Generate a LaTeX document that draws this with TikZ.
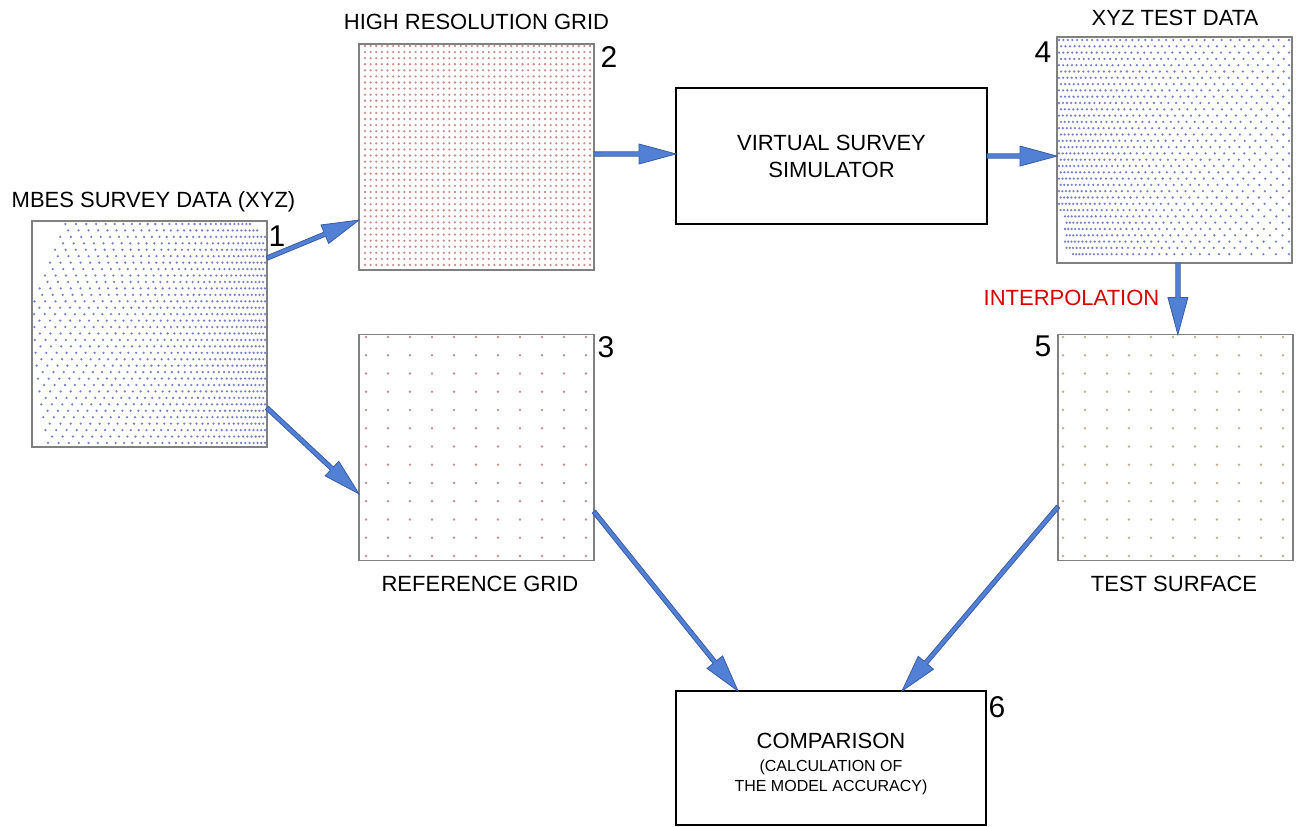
\documentclass[tikz,border=0pt]{standalone}
\usepackage{fontspec}
\setmainfont{Liberation Sans}
\usetikzlibrary{calc}
\definecolor{arrfill}{HTML}{5180D4}
\definecolor{arrdraw}{HTML}{3A5CA6}
\definecolor{bluedot}{HTML}{7880C8}
\definecolor{reddot}{HTML}{C89090}
\definecolor{tandot}{HTML}{C0B08C}
\definecolor{panelline}{HTML}{808080}
\definecolor{interp}{HTML}{D40000}
\newcommand{\aw}{1.65pt}
\newcommand{\aH}{7.5pt}
\newcommand{\ah}{27.75pt}
\tikzset{
  panel/.style={draw=panelline, line width=1.1pt, minimum width=176.25pt, minimum height=169.5pt, inner sep=0pt, outer sep=0pt},
  procbox/.style={draw=black, line width=1.1pt, inner sep=0pt, outer sep=0pt, align=center},
  lbl/.style={font=\fontsize{16.5pt}{20pt}\selectfont, inner sep=0pt, anchor=base},
  num/.style={font=\fontsize{22.5pt}{26pt}\selectfont, inner sep=0pt, anchor=base},
  blockarrow/.style={fill=arrfill, draw=arrdraw, line width=0.6pt, line join=miter,
    to path={let \p1=(\tikztostart), \p2=(\tikztotarget), \n1={atan2(\y2-\y1,\x2-\x1)} in
      ($(\p1)+(\n1+90:\aw)$) -- ($(\p2)+(\n1+180:\ah)+(\n1+90:\aw)$) -- ($(\p2)+(\n1+180:\ah)+(\n1+90:\aH)$)
      -- (\p2) -- ($(\p2)+(\n1+180:\ah)+(\n1-90:\aH)$) -- ($(\p2)+(\n1+180:\ah)+(\n1-90:\aw)$)
      -- ($(\p1)+(\n1-90:\aw)$) -- cycle}}
}
\begin{document}
\begin{tikzpicture}[x=0.75pt, y=-0.75pt]
\useasboundingbox (0,0) rectangle (1297,827);

% panels
\node[panel] (p1) at (149.5,334) {};
\node[panel] (p2) at (476.5,157) {};
\node[panel] (p3) at (476.5,447.5) {};
\node[panel] (p4) at (1174.5,150) {};
\node[panel] (p5) at (1175.5,447.5) {};

% panel 1 dots (MBES survey data)
\foreach \j in {0,...,34}{
  \pgfmathsetmacro\yy{224+\j*6.44}
  \pgfmathsetmacro\xo{\yy<305 ? 33+0.4*(305-\yy) : 34+14*((\yy-305)/138)^2}
  \pgfmathsetmacro\xr{\j==0 ? 250 : (\j==1 ? 259 : 265)}
  \pgfmathsetmacro\ph{0.5*mod(\j,2)}
  \pgfmathtruncatemacro\N{round((\xr-\xo)/6.6)}
  \pgfmathtruncatemacro\M{\N-mod(\j,2)}
  \foreach \k in {0,...,\M}{
    \pgfmathsetmacro\xx{\xo+(\xr-\xo)*(1-exp(-1.1*(\k+\ph)/\N))/(1-exp(-1.1))}
    \fill[bluedot] (\xx,\yy) circle (0.95pt);
  }
}

% panel 4 dots (XYZ test data)
\foreach \j in {0,...,34}{
  \pgfmathsetmacro\yy{40+\j*6.3}
  \pgfmathsetmacro\xo{\yy<215 ? 1059 : (\yy<250 ? 1065 : 1073)}
  \pgfmathsetmacro\xr{1289}
  \pgfmathsetmacro\cc{0.9+0.6*\j/34}
  \pgfmathsetmacro\ph{0.5*mod(\j,2)}
  \pgfmathtruncatemacro\N{round((\xr-\xo)/7)}
  \pgfmathtruncatemacro\M{\N-mod(\j,2)}
  \foreach \k in {0,...,\M}{
    \pgfmathsetmacro\xx{\xo+(\xr-\xo)*(1-(1-exp(-\cc*(1-(\k+\ph)/\N)))/(1-exp(-\cc)))}
    \fill[bluedot] (\xx,\yy) circle (0.95pt);
  }
}

% panel 2 dots (high resolution grid)
\foreach \i in {0,...,40}{
  \foreach \j in {0,...,36}{
    \fill[reddot] (365+\i*5.625,46+\j*6.083) circle (0.95pt);
  }
}
% panel 3 dots (reference grid)
\foreach \i in {0,...,10}{
  \foreach \j in {0,...,12}{
    \fill[reddot] (366+\i*22,337+\j*18.25) circle (1.05pt);
  }
}
% panel 5 dots (test surface)
\foreach \i in {0,...,10}{
  \foreach \j in {0,...,12}{
    \fill[tandot] (1063+\i*22,337+\j*18.25) circle (1.05pt);
  }
}

% process boxes
\node[procbox, minimum width=233.25pt, minimum height=102pt,
      font=\fontsize{16.5pt}{20.25pt}\selectfont] (vss) at (831.5,156) {VIRTUAL SURVEY\\SIMULATOR};
\node[procbox, minimum width=232.5pt, minimum height=100.5pt] (comp) at (831,758) {};
\node[align=center, inner sep=0pt, anchor=base, font=\fontsize{12pt}{15pt}\selectfont] (comptext) at (831,791)
  {{\fontsize{16.5pt}{18pt}\selectfont COMPARISON}\\[2.25pt]
   (CALCULATION OF\\
   THE MODEL ACCURACY)};

% labels
\node[lbl] (l1) at (153.5,208) {MBES SURVEY DATA (XYZ)};
\node[lbl] (l2) at (476.5,30) {HIGH RESOLUTION GRID};
\node[lbl] (l4) at (1175,26) {XYZ TEST DATA};
\node[lbl] (l3) at (480,591) {REFERENCE GRID};
\node[lbl] (l5) at (1174,591) {TEST SURFACE};
\node[lbl, text=interp] (li) at (1071.5,306) {INTERPOLATION};

% numbers
\node[num] (n1) at (277,247) {1};
\node[num] (n2) at (609,68) {2};
\node[num] (n3) at (606,358) {3};
\node[num] (n4) at (1043,63) {4};
\node[num] (n5) at (1043,357) {5};
\node[num] (n6) at (997,717) {6};

% connector end points on node borders
\coordinate (a1s) at ($(p1.north east)!0.164!(p1.south east)$);
\coordinate (a1e) at ($(p2.north west)!0.779!(p2.south west)$);
\coordinate (a2s) at ($(p1.north east)!0.827!(p1.south east)$);
\coordinate (a2e) at ($(p3.north west)!0.705!(p3.south west)$);
\coordinate (a3s) at ($(p2.north east)!0.487!(p2.south east)$);
\coordinate (a3e) at ($(vss.north west)!0.485!(vss.south west)$);
\coordinate (a4s) at (vss.east);
\coordinate (a4e) at ($(p4.north west)!0.527!(p4.south west)$);
\coordinate (a5s) at ($(p4.south west)!0.515!(p4.south east)$);
\coordinate (a5e) at ($(p5.north west)!0.51!(p5.north east)$);
\coordinate (a6s) at ($(p3.north east)!0.784!(p3.south east)$);
\coordinate (a6e) at ($(comp.north west)!0.2!(comp.north east)$);
\coordinate (a7s) at ($(p5.north west)!0.762!(p5.south west)$);
\coordinate (a7e) at ($(comp.north west)!0.729!(comp.north east)$);

\draw[blockarrow] (a1s) to (a1e);
\draw[blockarrow] (a2s) to (a2e);
\draw[blockarrow] (a3s) to (a3e);
\draw[blockarrow] (a4s) to (a4e);
\draw[blockarrow] (a5s) to (a5e);
\draw[blockarrow] (a6s) to (a6e);
\draw[blockarrow] (a7s) to (a7e);
\end{tikzpicture}
\end{document}
